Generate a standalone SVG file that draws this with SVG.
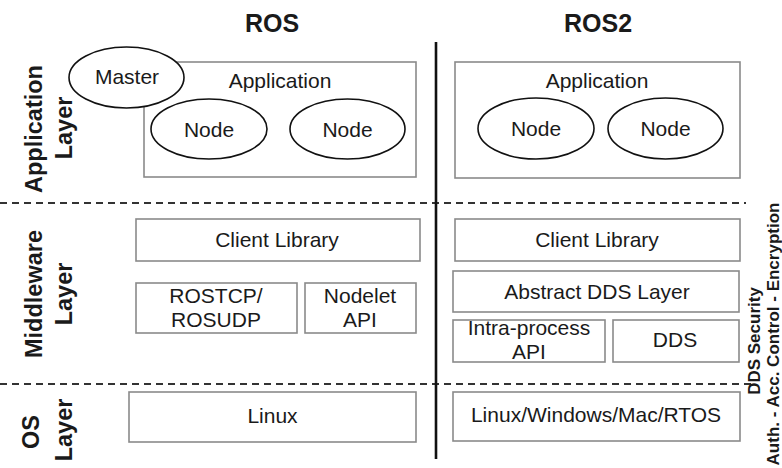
<svg xmlns="http://www.w3.org/2000/svg" width="782" height="468" viewBox="0 0 782 468">
<style>
text{font-family:"Liberation Sans",Arial,sans-serif;fill:#1a1a1a}
.t{font-size:21px;text-anchor:middle}
.h{font-size:25px;font-weight:bold;text-anchor:middle}
.l{font-size:23.5px;font-weight:bold;text-anchor:middle}
.s{font-size:17px;font-weight:bold;text-anchor:middle}
.box{fill:#fff;stroke:#8a8a8a;stroke-width:1.6}
.ell{fill:#fff;stroke:#111;stroke-width:1.6}
.dash{stroke:#333;stroke-width:2;stroke-dasharray:7 5;fill:none}
</style>
<rect width="782" height="468" fill="#fff"/>
<text class="h" x="272" y="32">ROS</text>
<text class="h" x="598" y="32">ROS2</text>
<g id="connectors">
<line class="dash" x1="0" y1="203" x2="746" y2="203"/>
<line class="dash" x1="0" y1="384" x2="752" y2="384"/>
<line x1="436" y1="42" x2="436" y2="459" stroke="#111" stroke-width="2.6"/>
</g>
<g id="layer-labels">
<text class="l" transform="translate(42,129) rotate(-90)">Application</text>
<text class="l" transform="translate(72,128) rotate(-90)">Layer</text>
<text class="l" transform="translate(42,294) rotate(-90)">Middleware</text>
<text class="l" transform="translate(72,294) rotate(-90)">Layer</text>
<text class="l" transform="translate(39,432) rotate(-90)">OS</text>
<text class="l" transform="translate(72,430) rotate(-90)">Layer</text>
</g>
<g id="ros-application">
<rect class="box" x="144" y="62" width="272" height="115"/>
<text class="t" x="280" y="88">Application</text>
</g>
<g id="ros-master">
<ellipse class="ell" cx="126.5" cy="77.5" rx="57.5" ry="30.5"/>
<text class="t" x="127" y="84">Master</text>
</g>
<g id="ros-node1">
<ellipse class="ell" cx="209" cy="129" rx="58" ry="30"/>
<text class="t" x="209" y="137">Node</text>
</g>
<g id="ros-node2">
<ellipse class="ell" cx="347.5" cy="129" rx="57.5" ry="30"/>
<text class="t" x="347.5" y="137">Node</text>
</g>
<g id="ros2-application">
<rect class="box" x="455" y="62" width="285" height="116"/>
<text class="t" x="597" y="88">Application</text>
</g>
<g id="ros2-node1">
<ellipse class="ell" cx="536" cy="128.5" rx="58" ry="30.5"/>
<text class="t" x="536" y="136">Node</text>
</g>
<g id="ros2-node2">
<ellipse class="ell" cx="665.5" cy="128.5" rx="57.5" ry="30.5"/>
<text class="t" x="665.5" y="136">Node</text>
</g>
<g id="ros-client-library">
<rect class="box" x="136" y="219" width="284" height="42"/>
<text class="t" x="277" y="247">Client Library</text>
</g>
<g id="ros-rostcp">
<rect class="box" x="136" y="283" width="161" height="50"/>
<text class="t" x="216" y="303">ROSTCP/</text>
<text class="t" x="216" y="327">ROSUDP</text>
</g>
<g id="ros-nodelet">
<rect class="box" x="305" y="283" width="111" height="50"/>
<text class="t" x="360" y="303">Nodelet</text>
<text class="t" x="360" y="327">API</text>
</g>
<g id="ros-linux">
<rect class="box" x="129" y="392" width="287" height="50"/>
<text class="t" x="272.5" y="423">Linux</text>
</g>
<g id="ros2-client-library">
<rect class="box" x="455" y="219" width="285" height="42"/>
<text class="t" x="597" y="247">Client Library</text>
</g>
<g id="ros2-abstract-dds">
<rect class="box" x="453" y="271" width="286" height="41"/>
<text class="t" x="597" y="299">Abstract DDS Layer</text>
</g>
<g id="ros2-intra-process">
<rect class="box" x="453" y="320" width="152" height="42"/>
<text class="t" x="529" y="335">Intra-process</text>
<text class="t" x="529" y="359">API</text>
</g>
<g id="ros2-dds">
<rect class="box" x="613" y="320" width="126" height="42"/>
<text class="t" x="675" y="347">DDS</text>
</g>
<g id="ros2-os">
<rect class="box" x="453" y="392" width="287" height="49"/>
<text class="t" x="596" y="422">Linux/Windows/Mac/RTOS</text>
</g>
<g id="dds-security">
<text class="s" transform="translate(760,341) rotate(-90)">DDS Security</text>
<text class="s" transform="translate(779,334) rotate(-90)">Auth. - Acc. Control - Encryption</text>
</g>
</svg>
